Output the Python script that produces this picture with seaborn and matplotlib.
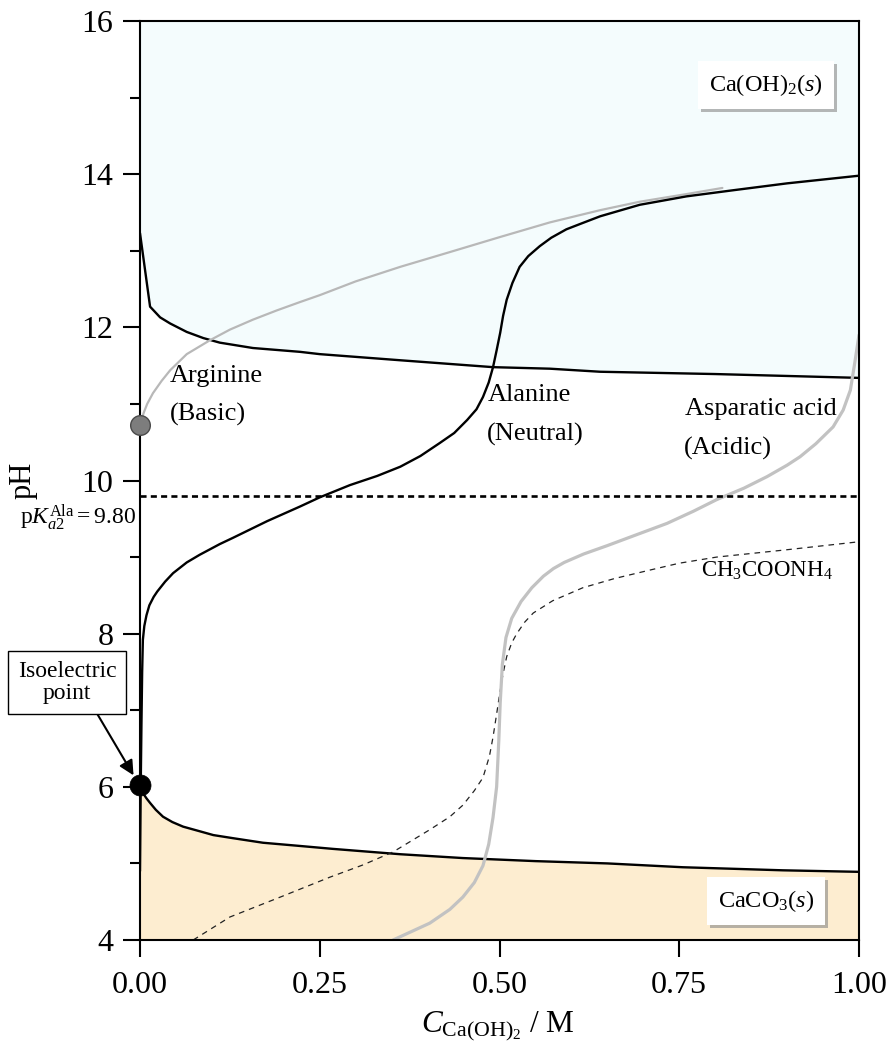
import numpy as np
import pandas as pd
import matplotlib
matplotlib.use("Agg")
import matplotlib.pyplot as plt
import matplotlib.patheffects as pe
from matplotlib.ticker import MultipleLocator
import seaborn as sns

# ---- data: titration of amino acids with Ca(OH)2 ----
# Ca(OH)2(s) precipitation boundary
caoh2_x = [0, 0.014, 0.028, 0.042, 0.065, 0.088, 0.111, 0.157, 0.2225, 0.25, 0.362,
           0.491, 0.57, 0.640, 0.80, 1.0]
caoh2_ph = [13.23, 12.27, 12.13, 12.05, 11.94, 11.86, 11.80, 11.73, 11.68, 11.65, 11.57,
            11.48, 11.46, 11.42, 11.39, 11.34]

# CaCO3(s) precipitation boundary
caco3_x = [0, 0.004, 0.009, 0.014, 0.022, 0.032, 0.045, 0.06, 0.083, 0.102, 0.129, 0.171,
           0.22, 0.268, 0.362, 0.449, 0.55, 0.65, 0.755, 0.894, 1.0]
caco3_ph = [6.02, 5.92, 5.85, 5.79, 5.70, 5.61, 5.54, 5.48, 5.42, 5.37, 5.33, 5.27,
            5.23, 5.19, 5.12, 5.07, 5.03, 5.0, 4.95, 4.91, 4.89]

# Alanine (neutral)
ala_x = [0, 0.001, 0.002, 0.003, 0.004, 0.006, 0.009, 0.013, 0.019, 0.024, 0.035, 0.046,
         0.065, 0.083, 0.111, 0.129, 0.177, 0.2225, 0.25, 0.292, 0.33, 0.362, 0.39, 0.417,
         0.437, 0.455, 0.468, 0.477, 0.485, 0.491, 0.496, 0.501, 0.505, 0.510, 0.518, 0.528,
         0.540, 0.556, 0.572, 0.593, 0.615, 0.640, 0.695, 0.76, 0.825, 0.90, 1.0]
ala_ph = [4.9, 6.0, 6.8, 7.5, 7.92, 8.10, 8.24, 8.37, 8.48, 8.55, 8.68, 8.79,
          8.93, 9.03, 9.17, 9.25, 9.47, 9.66, 9.78, 9.94, 10.06, 10.18, 10.32, 10.49,
          10.62, 10.79, 10.93, 11.09, 11.28, 11.48, 11.70, 11.93, 12.15, 12.36, 12.58, 12.79,
          12.93, 13.06, 13.17, 13.28, 13.36, 13.45, 13.60, 13.71, 13.79, 13.88, 13.98]

# Arginine (basic)
arg_x = [0, 0.005, 0.010, 0.018, 0.030, 0.042, 0.065, 0.097, 0.125, 0.157, 0.19, 0.2225,
         0.25, 0.30, 0.362, 0.43, 0.501, 0.570, 0.640, 0.695, 0.76, 0.81]
arg_ph = [10.72, 10.88, 11.0, 11.14, 11.30, 11.44, 11.65, 11.83, 11.97, 12.10, 12.22, 12.33,
          12.42, 12.6, 12.79, 12.98, 13.18, 13.37, 13.53, 13.64, 13.74, 13.82]

# Aspartic acid (acidic)
asp_x = [0.352, 0.403, 0.431, 0.449, 0.465, 0.477, 0.485, 0.491, 0.496, 0.499, 0.501, 0.504,
         0.509, 0.517, 0.530, 0.545, 0.561, 0.575, 0.59, 0.617, 0.65, 0.69, 0.733, 0.77,
         0.802, 0.84, 0.872, 0.90, 0.918, 0.94, 0.964, 0.978, 0.988, 0.994, 1.0]
asp_ph = [4.0, 4.22, 4.40, 4.56, 4.75, 4.97, 5.25, 5.60, 6.0, 6.6, 7.1, 7.6,
          7.95, 8.2, 8.42, 8.6, 8.75, 8.85, 8.93, 9.04, 9.15, 9.29, 9.44, 9.6,
          9.75, 9.9, 10.05, 10.2, 10.31, 10.48, 10.70, 10.92, 11.18, 11.53, 11.9]

# Ammonium acetate reference
ac_x = [0.074, 0.125, 0.195, 0.264, 0.31, 0.352, 0.403, 0.431, 0.449, 0.465, 0.477, 0.486,
        0.491, 0.496, 0.500, 0.505, 0.510, 0.517, 0.524, 0.535, 0.547, 0.574, 0.616, 0.66,
        0.709, 0.75, 0.802, 0.894, 1.0]
ac_ph = [4.0, 4.30, 4.56, 4.82, 4.98, 5.15, 5.44, 5.61, 5.76, 5.95, 6.12, 6.40,
         6.65, 6.95, 7.2, 7.48, 7.70, 7.88, 8.0, 8.15, 8.27, 8.43, 8.6, 8.72,
         8.83, 8.92, 9.0, 9.09, 9.2]

pka2_ala = 9.80
isoelectric_ph = 6.02
arginine_start_ph = 10.72

x_ticks = [0.00, 0.25, 0.50, 0.75, 1.00]
x_tick_labels = ["0.00", "0.25", "0.50", "0.75", "1.00"]
y_ticks = [4, 6, 8, 10, 12, 14, 16]

# ---- style ----
sns.set_theme(style="ticks")
plt.rcParams["font.family"] = ["Liberation Serif", "DejaVu Serif"]
plt.rcParams["mathtext.fontset"] = "custom"
plt.rcParams["mathtext.rm"] = "Liberation Serif"
plt.rcParams["mathtext.it"] = "Liberation Serif:italic"
plt.rcParams["mathtext.bf"] = "Liberation Serif:bold"
plt.rcParams["axes.linewidth"] = 1.5
plt.rcParams["text.color"] = "black"
plt.rcParams["axes.labelcolor"] = "black"
plt.rcParams["xtick.color"] = "black"
plt.rcParams["ytick.color"] = "black"

fig = plt.figure(figsize=(8.93, 10.58), dpi=100)
ax = fig.add_axes([140 / 893, 1 - 940 / 1058, 719 / 893, 919 / 1058])
ax.set_facecolor("white")

# solid-phase regions
top_fill = "#f4fcfd"
bottom_fill = "#fdedd0"
ax.fill_between(caoh2_x, caoh2_ph, 16, color=top_fill, lw=0, zorder=0)
ax.fill_between(caco3_x, 4, caco3_ph, color=bottom_fill, lw=0, zorder=0)

def curve(xs, ys, **kw):
    df = pd.DataFrame({"x": xs, "pH": ys})
    sns.lineplot(data=df, x="x", y="pH", ax=ax, sort=False, estimator=None, **kw)

curve(caoh2_x, caoh2_ph, color="black", lw=1.7, zorder=3)
curve(caco3_x, caco3_ph, color="black", lw=1.7, zorder=3)
curve(ac_x, ac_ph, color="#222222", lw=0.9, linestyle=(0, (4.5, 4.0)), zorder=3)
curve(asp_x, asp_ph, color="#c2c2c2", lw=2.3, zorder=3)
curve(arg_x, arg_ph, color="#b8b8b8", lw=1.6, zorder=3)
curve(ala_x, ala_ph, color="black", lw=1.7, zorder=4)

ax.axhline(pka2_ala, color="black", lw=1.9, linestyle=(0, (2.3, 1.6)), zorder=3)

# start points
sns.scatterplot(x=[0.0], y=[arginine_start_ph], ax=ax, s=200, color="#7d7d7d",
                edgecolor="#4a4a4a", linewidth=1.0, zorder=6, clip_on=False)
sns.scatterplot(x=[0.0], y=[isoelectric_ph], ax=ax, s=230, color="black",
                edgecolor="black", linewidth=0.5, zorder=6, clip_on=False)

# axes
ax.set_xlim(0, 1)
ax.set_ylim(4, 16)
ax.set_xticks(x_ticks)
ax.set_xticklabels(x_tick_labels)
ax.set_yticks(y_ticks)
ax.yaxis.set_minor_locator(MultipleLocator(1))
ax.tick_params(axis="both", which="major", direction="out", length=12, width=1.5,
               labelsize=23, color="black", labelcolor="black")
ax.tick_params(axis="y", which="minor", direction="out", length=7, width=1.5, color="black")
ax.tick_params(axis="x", pad=10)
ax.tick_params(axis="y", pad=7)
for sp in ax.spines.values():
    sp.set_visible(True)
    sp.set_color("black")
    sp.set_linewidth(1.5)
    sp.set_zorder(5)

ax.set_xlabel(r"$C_{\mathrm{Ca(OH)_2}}$ / M", fontsize=22.5)
ax.xaxis.set_label_coords(0.497, -0.076)
ax.set_ylabel("pH", fontsize=22)
ax.yaxis.set_label_coords(-0.143, 0.5)

fig.text(20 / 893, 1 - 518 / 1058, r"$\mathrm{p}K_{a2}^{\mathrm{Ala}} = 9.80$",
         fontsize=17, ha="left", va="center")

# curve labels
lab = dict(fontsize=19, ha="left", va="center", zorder=7)
ax.text(0.042, 11.37, "Arginine", **lab)
ax.text(0.042, 10.86, "(Basic)", **lab)
ax.text(0.484, 11.12, "Alanine", **lab)
ax.text(0.482, 10.60, "(Neutral)", **lab)
ax.text(0.758, 10.93, "Asparatic acid", **lab)
ax.text(0.757, 10.42, "(Acidic)", **lab)
ax.text(0.78, 8.82, r"CH$_3$COONH$_4$", fontsize=16.5, ha="left", va="center", zorder=7)

# precipitate tags with drop shadow
shadow = [pe.withSimplePatchShadow(offset=(2, -2), shadow_rgbFace="#888888", alpha=0.6)]
for tx, ty, s in [(0.871, 15.165, r"Ca(OH)$_2$($s$)"), (0.871, 4.51, r"CaCO$_3$($s$)")]:
    t = ax.text(tx, ty, s, fontsize=17.5, ha="center", va="center", zorder=8,
                bbox=dict(boxstyle="square,pad=0.45", fc="white", ec="none"))
    t.get_bbox_patch().set_path_effects(shadow)

# isoelectric point callout
ax.annotate("Isoelectric\npoint", xy=(-0.009, 6.15), xytext=(-0.1015, 7.36),
            xycoords="data", textcoords="data", fontsize=17, ha="center", va="center",
            linespacing=1.1, annotation_clip=False, zorder=8,
            bbox=dict(boxstyle="square,pad=0.4", fc="white", ec="black", lw=1.0),
            arrowprops=dict(arrowstyle="-|>", color="black", lw=1.5, mutation_scale=22,
                            relpos=(0.75, 0.0), shrinkA=0, shrinkB=0))

fig.savefig("out.png", dpi=100)
